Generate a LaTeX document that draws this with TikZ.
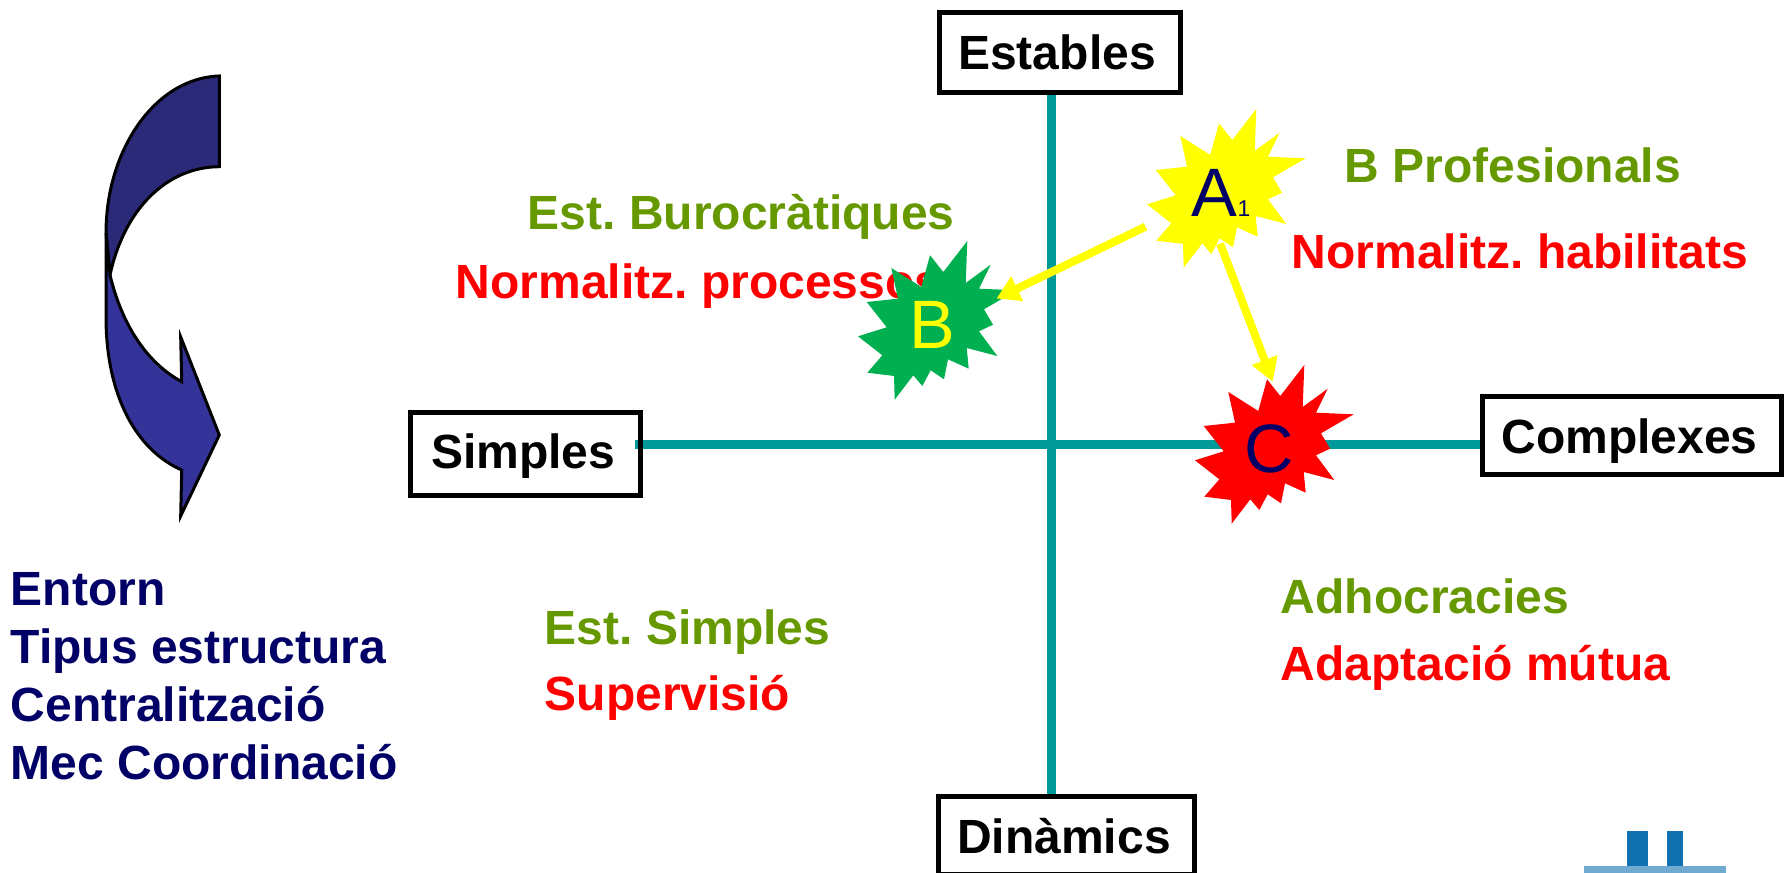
\documentclass[tikz,border=0pt]{standalone}
\usepackage{fontspec}
\usepackage{tikz}
\usetikzlibrary{arrows.meta, backgrounds}
\setmainfont{Liberation Sans}
\frenchspacing
\definecolor{verdos}{HTML}{669900}
\definecolor{marino}{HTML}{000066}
\definecolor{eixblau}{HTML}{009999}
\definecolor{verdb}{HTML}{00B050}
\definecolor{groc}{HTML}{FFFF00}
\definecolor{vermell}{HTML}{FF0000}
\tikzset{
    caixa/.style = {draw, line width = 0.05cm, inner sep = 0pt, text height = 0.35cm, text depth = 0pt,
        execute at end node = \kern 0.05cm, font = \fontsize{13.66}{16.5}\selectfont\bfseries},
    eix/.style = {eixblau, line width = 0.09cm},
    tipus/.style = {anchor = west, inner sep = 0pt, verdos, font = \fontsize{13.66}{16.5}\selectfont\bfseries},
    mec/.style = {tipus, vermell},
    punt/.style = {circle, minimum size = 1cm, inner sep = 0pt, font = \fontsize{19.5}{21}\selectfont},
    fletxa/.style = {groc, line width = 0.08cm, -{Triangle[length = 0.23cm, width = 0.26cm]}}
}
\newcommand{\esclat}[2]{
    \fill [#2, shift = {#1}] plot [sharp cycle] coordinates {(.383,-.81) (.367,-.39)
    (.617,-.573) (.5,-.333) (.877,-.317) (.55,-.127) (.64,.027) (.5,.093) (.683,.34)
    (.377,.26) (.397,.467) (.19,.373) (.15,.573) (.017,.483) (-.067,.64) (-.157,.533)
    (-.343,.777) (-.35,.54) (-.617,.507) (-.467,.333) (-.71,.143) (-.423,.053)
    (-.623,-.2) (-.31,-.233) (-.377,-.54) (-.077,-.35) (.01,-.667) (.143,-.5)};
}
\begin{document}
\begin{tikzpicture}[x = 1cm, y = -1cm]
    \useasboundingbox (0,0) rectangle (17.84,8.73);

    % fletxa corba
    \draw [line width = 0.03cm, fill = {rgb,255:red,42;green,42;blue,120}]
    (2.193,0.76) .. controls (1.55,0.78) and (1.06,1.5) .. (1.06,2.33)
    -- (1.10,2.75) .. controls (1.24,2.1) and (1.66,1.67) .. (2.193,1.667) -- cycle;
    \draw [line width = 0.03cm, fill = {rgb,255:red,51;green,51;blue,153}]
    (1.10,2.75) .. controls (1.22,3.25) and (1.47,3.63) .. (1.817,3.817)
    -- (1.807,3.37) -- (2.193,4.35) -- (1.807,5.16) -- (1.817,4.70)
    .. controls (1.36,4.5) and (1.06,3.95) .. (1.06,3.17) -- (1.06,2.33) -- cycle;

    \node [tipus, marino, align = left] (llista) at (0.10,6.76)
    {Entorn\\Tipus estructura\\Centralització\\Mec Coordinació};

    % caixes
    \node [caixa, minimum width = 2.41cm, minimum height = 0.805cm] (estables) at (10.595,0.525) {Estables};
    \node [caixa, minimum width = 2.30cm, minimum height = 0.826cm, text depth = 0.06cm] (simples) at (5.257,4.54) {Simples};
    \node [caixa, minimum width = 2.983cm, minimum height = 0.78cm] (complexes) at (16.32,4.357) {Complexes};
    \node [caixa, minimum width = 2.558cm, minimum height = 0.78cm] (dinamics) at (10.665,8.357) {Dinàmics};

    \coordinate (centre) at (10.513,4.445);
    \begin{scope}[on background layer]
        \draw [eix] (estables.south -| centre) -- (dinamics.north -| centre);
        \draw [eix, shorten < = -0.08cm] (simples.east |- centre) -- (complexes.west |- centre);
    \end{scope}

    \node [tipus] (burocr) at (5.27,2.165) {Est. Burocràtiques};
    \node [mec] (process) at (4.55,2.865) {Normalitz. processos};
    \node [tipus] (profes) at (13.44,1.65) {B Profesionals};
    \node [mec] (habil) at (12.91,2.51) {Normalitz. habilitats};
    \node [tipus] (simpl) at (5.44,6.325) {Est. Simples};
    \node [mec] (superv) at (5.44,6.975) {Supervisió};
    \node [tipus] (adhoc) at (12.80,5.96) {Adhocracies};
    \node [mec] (adapt) at (12.80,6.675) {Adaptació mútua};

    % esclats
    \esclat{(12.18,1.90)}{groc}
    \esclat{(9.29,3.22)}{verdb}
    \esclat{(12.66,4.46)}{vermell}
    \node [punt, marino] (A) at (12.21,1.93) {A{\fontsize{6.5}{7}\selectfont 1}};
    \node [punt, groc] (B) at (9.32,3.25) {B};
    \node [punt, marino] (C) at (12.69,4.49) {C};

    \draw [fletxa, shorten < = 0.32cm, shorten > = 0.19cm] (A.203) -- (B.21);
    \draw [fletxa, shorten > = 0.19cm] (A.269) -- (C.78);

    % logo
    \fill [fill = {rgb,255:red,16;green,112;blue,176}] (16.27,8.31) rectangle (16.48,8.66);
    \fill [fill = {rgb,255:red,16;green,112;blue,176}] (16.67,8.31) rectangle (16.83,8.66);
    \fill [fill = {rgb,255:red,112;green,170;blue,208}] (15.84,8.66) rectangle (17.26,8.73);
\end{tikzpicture}
\end{document}
